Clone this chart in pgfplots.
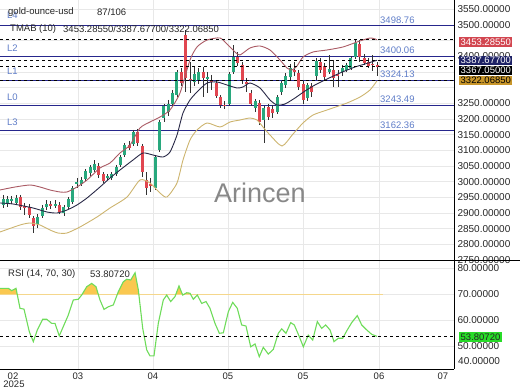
\documentclass[border=0pt]{standalone}
\usepackage{pgfplots}
\pgfplotsset{compat=1.18}
\usepackage{pgfplotstable}
\usepackage{fontspec}
\setmainfont{Liberation Sans}
\pgfplotsset{/pgf/number format/assume math mode=true}

\definecolor{navyl}{RGB}{38,38,140}
\definecolor{lvl}{RGB}{95,125,200}
\definecolor{upb}{RGB}{170,90,100}
\definecolor{midb}{RGB}{40,40,70}
\definecolor{lowb}{RGB}{205,180,110}
\definecolor{upc}{RGB}{40,168,125}
\definecolor{dnc}{RGB}{225,70,80}
\definecolor{wickc}{RGB}{50,50,50}
\definecolor{rsic}{RGB}{110,220,90}
\definecolor{obline}{RGB}{245,215,140}
\definecolor{obfill}{RGB}{250,200,80}
\definecolor{gridc}{RGB}{232,232,232}
\definecolor{redbox}{RGB}{210,70,80}
\definecolor{navybox}{RGB}{30,34,102}
\definecolor{goldbox}{RGB}{200,150,42}
\definecolor{greenbox}{RGB}{40,220,40}

\pgfplotstableread{
i o h l c
0 2925.6 2957.5 2916.0 2944.7
1 2928.8 2954.3 2919.2 2944.7
2 2938.3 2954.3 2928.8 2944.7
3 2932.0 2957.5 2925.6 2947.9
8 2864.9 2896.8 2852.2 2887.3
9 2890.5 2925.6 2884.1 2916.0
10 2919.2 2941.5 2909.6 2928.8
12 2922.4 2941.5 2916.0 2928.8
14 2900.0 2925.6 2890.5 2919.2
15 2919.2 2951.1 2912.8 2944.7
16 2935.2 2986.2 2928.8 2979.8
17 2992.6 3011.8 2979.8 2999.0
18 2992.6 3015.0 2986.2 3005.4
19 3008.6 3040.5 3002.2 3034.1
20 3027.7 3053.3 3018.2 3046.9
21 3037.3 3069.2 3030.9 3056.5
24 3011.8 3024.5 3005.4 3018.2
25 3011.8 3030.9 3005.4 3024.5
26 3024.5 3053.3 3018.2 3046.9
27 3053.3 3085.2 3046.9 3078.8
28 3085.2 3123.5 3078.8 3117.1
30 3120.3 3165.0 3113.9 3158.6
35 2979.8 3085.2 2973.5 3078.8
36 3101.2 3196.9 3094.8 3190.5
37 3203.3 3248.0 3190.5 3241.6
38 3222.5 3260.8 3209.7 3248.0
39 3248.0 3292.7 3241.6 3283.1
40 3276.7 3356.5 3270.3 3350.2
44 3318.2 3369.3 3305.5 3343.8
45 3324.6 3362.9 3311.8 3350.2
47 3327.8 3350.2 3283.1 3334.2
52 3248.0 3350.2 3241.6 3343.8
53 3350.2 3436.3 3343.8 3398.0
58 3235.2 3264.0 3222.5 3257.6
60 3196.9 3241.6 3123.5 3235.2
63 3222.5 3276.7 3216.1 3270.3
64 3286.3 3321.4 3276.7 3315.0
65 3308.7 3347.0 3299.1 3337.4
66 3334.2 3375.7 3324.6 3362.9
70 3267.2 3315.0 3257.6 3308.7
72 3337.4 3394.8 3324.6 3385.3
75 3350.2 3404.4 3343.8 3359.7
78 3350.2 3372.5 3337.4 3362.9
79 3356.5 3378.9 3350.2 3372.5
80 3362.9 3401.2 3356.5 3394.8
81 3398.0 3452.3 3391.7 3442.7
}\candup

\pgfplotstableread{
i o h l c
4 2951.1 2957.5 2909.6 2919.2
5 2922.4 2932.0 2893.7 2916.0
6 2919.2 2928.8 2884.1 2893.7
7 2884.1 2890.5 2836.2 2858.5
11 2928.8 2938.3 2912.8 2922.4
13 2925.6 2935.2 2896.8 2903.2
22 3050.1 3059.7 3011.8 3021.3
23 3024.5 3030.9 2995.8 3002.2
29 3117.1 3129.9 3101.2 3107.5
31 3158.6 3168.2 3113.9 3123.5
32 3113.9 3120.3 3015.0 3030.9
33 3005.4 3030.9 2957.5 2979.8
34 2992.6 3011.8 2967.1 2986.2
41 3350.2 3362.9 3305.5 3315.0
42 3468.3 3484.2 3286.3 3331.0
43 3327.8 3382.1 3283.1 3324.6
46 3350.2 3366.1 3270.3 3331.0
48 3324.6 3340.6 3292.7 3318.2
49 3315.0 3324.6 3267.2 3273.5
50 3270.3 3276.7 3235.2 3244.8
51 3244.8 3257.6 3232.0 3241.6
54 3398.0 3414.0 3369.3 3378.9
55 3372.5 3382.1 3311.8 3324.6
56 3318.2 3331.0 3286.3 3311.8
57 3283.1 3292.7 3241.6 3248.0
59 3251.2 3260.8 3181.0 3190.5
61 3238.4 3248.0 3196.9 3206.5
62 3232.0 3244.8 3203.3 3219.3
67 3356.5 3382.1 3337.4 3350.2
68 3347.0 3356.5 3292.7 3302.3
69 3311.8 3321.4 3248.0 3260.8
71 3305.5 3315.0 3270.3 3286.3
73 3382.1 3394.8 3347.0 3356.5
74 3369.3 3378.9 3324.6 3334.2
76 3356.5 3388.5 3302.3 3331.0
77 3343.8 3356.5 3302.3 3337.4
82 3439.5 3452.3 3382.1 3398.0
83 3394.8 3407.6 3372.5 3378.9
84 3382.1 3394.8 3362.9 3369.3
85 3375.7 3404.4 3353.3 3372.5
86 3372.5 3382.1 3337.4 3367.05
}\canddown

\begin{document}
\begin{tikzpicture}[x=1pt,y=1pt]
\useasboundingbox (0,0) rectangle (520,390);

\begin{axis}[
  at={(0pt,130pt)}, anchor=south west, scale only axis,
  width=454pt, height=260pt,
  xmin=-0.69, xmax=103.68, ymin=2750, ymax=3580,
  axis line style={draw=none}, major tick length=0pt,
  xtick={17.24,34.48,51.72,68.97,86.44}, xticklabels={},
  ytick={2750,2800,2850,2900,2950,3000,3050,3100,3150,3200,3250,3400,3500,3550},
  extra y ticks={3300,3350,3450}, extra y tick labels={},
  yticklabel pos=right,
  yticklabel style={font=\fontsize{10}{12}\selectfont, text=black!85, /pgf/number format/.cd, fixed, fixed zerofill, precision=5, 1000 sep={}},
  grid=major, major grid style={gridc, line width=0.6pt},
]
% level lines
\addplot[navyl, line width=1pt] coordinates {(-0.69,3498.76) (103.68,3498.76)};
\addplot[navyl, line width=1pt] coordinates {(-0.69,3400.06) (103.68,3400.06)};
\addplot[navyl, line width=1pt] coordinates {(-0.69,3324.13) (103.68,3324.13)};
\addplot[navyl, line width=1pt] coordinates {(-0.69,3243.49) (103.68,3243.49)};
\addplot[navyl, line width=1pt] coordinates {(-0.69,3162.36) (103.68,3162.36)};
% wicks
\addplot[forget plot, draw=none, mark=none, error bars/.cd, y dir=minus, y explicit, error mark=none,
  error bar style={draw=wickc, line width=0.8pt}]
  table[x=i, y=h, y error expr=\thisrow{h}-\thisrow{l}] {\candup};
\addplot[forget plot, draw=none, mark=none, error bars/.cd, y dir=minus, y explicit, error mark=none,
  error bar style={draw=wickc, line width=0.8pt}]
  table[x=i, y=h, y error expr=\thisrow{h}-\thisrow{l}] {\canddown};
% bodies
\addplot[forget plot, draw=none, mark=none, error bars/.cd, y dir=minus, y explicit, error mark=none,
  error bar style={draw=upc, line width=3pt}]
  table[x=i, y=c, y error expr=\thisrow{c}-\thisrow{o}] {\candup};
\addplot[forget plot, draw=none, mark=none, error bars/.cd, y dir=minus, y explicit, error mark=none,
  error bar style={draw=dnc, line width=3pt}]
  table[x=i, y=o, y error expr=\thisrow{o}-\thisrow{c}] {\canddown};
% bands
\addplot[upb, line width=0.9pt, smooth, tension=0.4] coordinates {
(-0.69,2973.5) (2.76,2983.0) (6.21,2989.4) (8.51,2983.0) (10.80,2973.5) (13.10,2967.1) (14.71,2967.1)
(17.01,2983.0) (19.31,3005.4) (22.30,3043.7) (24.60,3059.7) (26.90,3091.6) (29.20,3117.1) (31.49,3171.4)
(33.79,3190.5) (36.09,3206.5) (38.39,3228.8) (40.69,3283.1) (42.99,3388.5) (44.60,3430.0) (46.90,3452.3)
(49.89,3458.7) (51.72,3436.3) (53.33,3414.0) (54.48,3404.4) (56.78,3426.8) (59.08,3433.2) (61.38,3420.4)
(63.68,3388.5) (65.29,3362.9) (66.44,3356.5) (67.59,3369.3)
(68.97,3398.0) (71.27,3414.0) (74.48,3420.4) (78.16,3430.0) (81.38,3445.9) (84.37,3458.7) (85.98,3453.29)};
\addplot[midb, line width=0.9pt, smooth, tension=0.4] coordinates {
(-0.69,2932.0) (2.30,2928.8) (6.90,2916.0) (10.11,2903.2) (12.41,2900.0) (14.71,2909.6) (17.01,2925.6)
(19.31,2947.9) (22.30,2983.0) (24.60,3011.8) (26.90,3037.3) (29.89,3069.2) (32.18,3091.6) (34.48,3085.2)
(36.78,3078.8) (38.39,3094.8) (40.00,3149.0) (41.38,3219.3) (42.99,3260.8) (44.60,3286.3) (46.90,3315.0)
(49.20,3318.2) (51.49,3308.7) (53.79,3299.1) (55.17,3302.3) (56.78,3315.0) (59.08,3299.1) (61.38,3260.8)
(62.99,3244.8) (64.83,3248.0) (67.13,3267.2) (69.43,3289.5) (71.72,3308.7) (74.02,3324.6) (77.47,3347.0)
(80.92,3366.1) (83.22,3375.7) (85.98,3387.68)};
\addplot[lowb, line width=0.9pt, smooth, tension=0.4] coordinates {
(-0.69,2839.4) (3.91,2861.7) (6.21,2868.1) (8.51,2861.7) (10.80,2845.8) (12.64,2836.2) (14.71,2836.2)
(17.70,2855.4) (21.61,2887.3) (24.60,2916.0) (28.51,2951.1) (31.49,3005.4) (33.79,2995.8) (36.09,2963.9)
(37.70,2951.1) (40.00,2995.8) (41.38,3069.2) (42.99,3133.1) (44.60,3165.0) (46.90,3187.4) (49.89,3174.6)
(52.18,3190.5) (54.48,3196.9) (56.78,3203.3) (58.40,3196.9) (59.77,3174.6) (61.38,3149.0) (64.14,3113.9)
(66.67,3152.2) (68.97,3187.4)
(71.27,3212.9) (74.48,3228.8) (79.08,3251.2) (82.07,3270.3) (84.37,3292.7) (85.98,3322.07)};
% dashed value lines
\addplot[black, dash pattern=on 3pt off 3pt, line width=0.9pt] coordinates {(-0.69,3453.2855) (103.68,3453.2855)};
\addplot[black, dash pattern=on 3pt off 3pt, line width=0.9pt] coordinates {(-0.69,3387.677) (103.68,3387.677)};
\addplot[black, dash pattern=on 3pt off 3pt, line width=0.9pt] coordinates {(-0.69,3367.05) (103.68,3367.05)};
\addplot[black, dash pattern=on 3pt off 3pt, line width=0.9pt] coordinates {(-0.69,3322.0685) (103.68,3322.0685)};
\end{axis}

\begin{axis}[
  at={(0pt,21pt)}, anchor=south west, scale only axis,
  width=454pt, height=109pt,
  xmin=-0.69, xmax=103.68, ymin=41.27, ymax=83.19,
  axis line style={draw=none}, major tick length=0pt,
  xtick={17.24,34.48,51.72,68.97,86.44}, xticklabels={03,04,05,05,06},
  extra x ticks={2.30,101.15}, extra x tick labels={02,07}, extra x tick style={grid=none},
  xticklabel style={font=\fontsize{9.5}{11}\selectfont, text=black!85},
  ytick={50,60,70,80}, yticklabel pos=right,
  yticklabel style={font=\fontsize{10}{12}\selectfont, text=black!85, /pgf/number format/.cd, fixed, fixed zerofill, precision=5, 1000 sep={}},
  grid=major, major grid style={gridc, line width=0.6pt},
]
% overbought areas
\addplot[fill=obfill, draw=none] coordinates {(-0.69,70) (-0.69,72.3) (1.22,72.3) (2.00,71.4) (2.99,72.3) (3.26,70)} -- cycle;
\addplot[fill=obfill, draw=none] coordinates {(18.2,70) (19.24,72.9) (20.39,74.2) (21.38,72.9) (21.9,70)} -- cycle;
\addplot[fill=obfill, draw=none] coordinates {(26.28,70) (26.51,71.0) (27.66,74.8) (28.44,75.8) (29.36,75.5) (30.36,78.3) (31.11,71.7) (31.23,70)} -- cycle;
\addplot[fill=obfill, draw=none] coordinates {(39.74,70) (40.46,73.2) (41.24,70)} -- cycle;
\addplot[fill=obfill, draw=none] coordinates {(41.62,70) (42.23,70.6) (42.99,70.4) (43.12,70)} -- cycle;
\addplot[obline, line width=1pt] coordinates {(-0.69,70) (87.4,70)};
\addplot[rsic, line width=1.1pt] coordinates {
(-0.69,72.3) (1.22,72.3) (2.00,71.4) (2.99,72.3) (3.91,64.6) (4.83,64.3) (6.05,55.6) (6.97,51.8)
(7.89,56.3) (9.13,60.4) (10.05,60.4) (11.20,58.8) (11.95,58.8) (12.94,54.0) (14.02,58.2) (15.01,62.0)
(16.16,67.8) (17.31,68.1) (18.09,69.7) (19.24,72.9) (20.39,74.2) (21.38,72.9) (22.30,67.8) (23.22,64.2)
(24.21,65.2) (25.36,65.9) (26.51,71.0) (27.66,74.8) (28.44,75.8) (29.36,75.5) (30.36,78.3) (31.11,71.7)
(32.12,56.9) (33.04,48.6) (33.79,46.3) (34.71,46.3) (35.70,58.8) (36.85,67.8) (37.63,69.7) (38.55,67.2)
(39.54,69.1) (40.46,73.2) (41.31,69.7) (42.23,70.6) (42.99,70.4) (43.75,68.1) (44.67,69.7) (45.68,66.5)
(46.67,67.2) (47.59,64.6) (48.74,58.8) (49.73,55.0) (50.65,55.2) (51.80,63.3) (52.81,66.9) (53.86,64.6)
(54.87,58.2) (55.86,57.8) (56.94,49.8) (57.93,50.9) (58.92,46.0) (59.84,49.6) (60.99,47.0) (62.14,48.8)
(63.29,55.0) (64.07,56.7) (65.06,55.0) (66.14,59.1) (66.97,58.2) (68.12,53.7) (69.04,49.8) (70.18,54.3)
(71.20,52.4) (72.26,59.5) (73.26,56.9) (74.18,58.2) (75.17,56.3) (76.09,51.8) (77.08,53.1) (78.09,53.1)
(79.15,56.3) (80.16,59.1) (81.45,61.8) (82.46,58.2) (83.61,56.3) (84.76,54.6) (85.98,53.81)};
\addplot[black, dash pattern=on 3pt off 3pt, line width=0.9pt] coordinates {(-0.69,53.8072) (103.68,53.8072)};
\end{axis}

% frame lines
\draw[black, line width=0.8pt] (454,21) -- (454,390);
\draw[black, line width=0.8pt] (0,130) -- (520,130);
\draw[black, line width=0.8pt] (0,21) -- (454,21);

% watermark
\node[text=black!55, opacity=0.85, font=\fontsize{27}{30}\selectfont] at (260,197) {Arincen};

% level labels
\begin{scope}[every node/.style={inner sep=0pt, anchor=west, text=lvl, font=\fontsize{9.5}{11}\selectfont}]
\node at (7,375) {L4};
\node at (7,342) {L2};
\node at (7,319) {L1};
\node at (7,293) {L0};
\node at (7,268) {L3};
\node at (380,370) {3498.76};
\node at (380,339.3) {3400.06};
\node at (380,316) {3324.13};
\node at (380,290.7) {3243.49};
\node at (380,265) {3162.36};
\end{scope}

% header texts
\begin{scope}[every node/.style={inner sep=0pt, anchor=west, text=black!85, font=\fontsize{9.5}{11}\selectfont}]
\node at (8,378) {gold-ounce-usd};
\node at (97,378) {87/106};
\node at (10,361) {TMAB (10)};
\node at (63,361) {3453.28550/3387.67700/3322.06850};
\node at (8,116) {RSI (14, 70, 30)};
\node at (90,116) {53.80720};
\node at (458,29) {\fontsize{10}{12}\selectfont 40.00000};
\end{scope}
\node[inner sep=0pt, text=black!85, font=\fontsize{9.5}{11}\selectfont] at (14,6) {2025};

% value boxes
\begin{scope}[every node/.style={anchor=west, inner xsep=1.5pt, inner ysep=0pt, minimum height=9.6pt, font=\fontsize{9.5}{11}\selectfont}]
\node[fill=redbox, text=white] at (459,348) {3453.28550};
\node[fill=navybox, text=white] at (459,329.5) {3387.67700};
\node[fill=black, text=white] at (459,319.5) {3367.05000};
\node[fill=goldbox, text=black] at (459,309.3) {3322.06850};
\node[fill=greenbox, text=black!85] at (459,53) {53.80720};
\end{scope}
\end{tikzpicture}
\end{document}
